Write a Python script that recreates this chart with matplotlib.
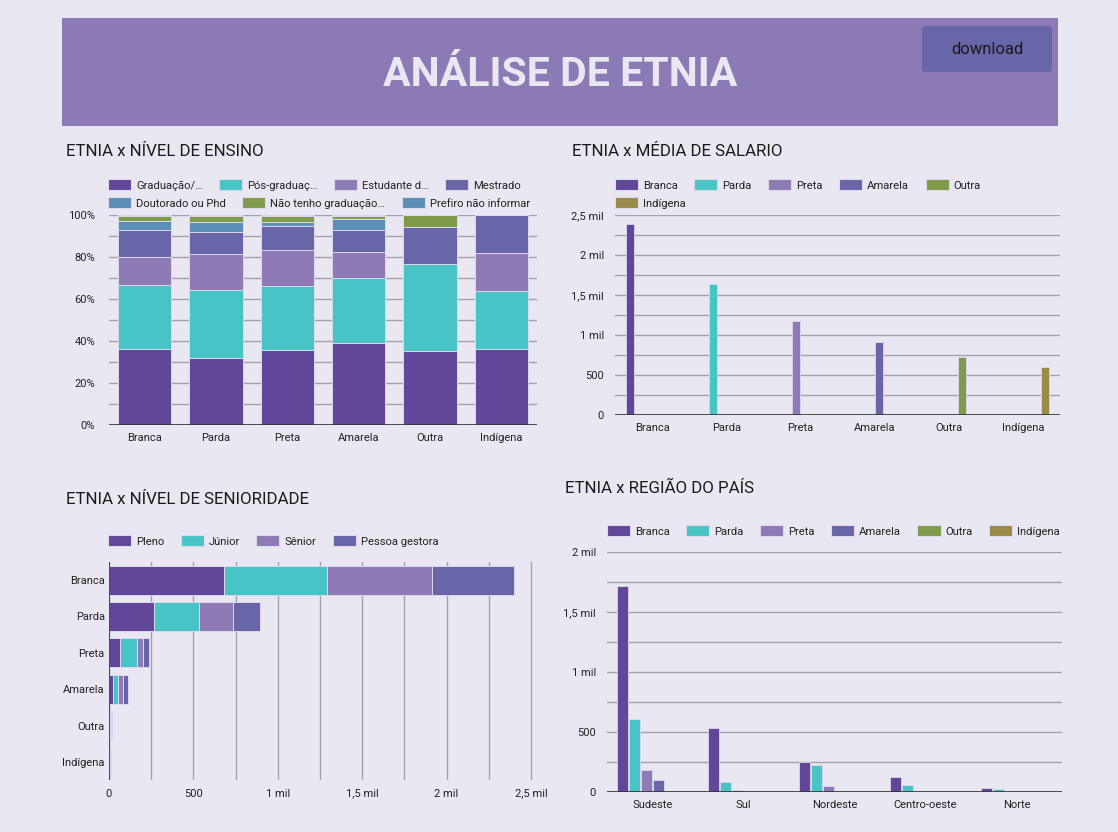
import matplotlib
matplotlib.use("Agg")
import matplotlib.pyplot as plt
from matplotlib.patches import Patch, FancyBboxPatch
from matplotlib.ticker import FuncFormatter, MultipleLocator
import numpy as np

plt.rcParams['font.family'] = ['Roboto', 'DejaVu Sans']

W, H = 1118, 832

etnias = ["Branca", "Parda", "Preta", "Amarela", "Outra", "Indígena"]

# ETNIA x NIVEL DE ENSINO (% por etnia)
ensino_labels = ["Graduação/…", "Pós-graduaç…", "Estudante d…", "Mestrado",
                 "Doutorado ou Phd", "Não tenho graduação…", "Prefiro não informar"]
graduacao = [36.2, 31.7, 35.7, 38.9, 35.3, 36.4]
pos_grad = [30.5, 32.6, 30.5, 31.1, 41.2, 27.3]
estudante = [13.3, 17.0, 17.3, 12.2, 0.0, 18.2]
mestrado = [12.9, 10.8, 11.1, 10.7, 17.6, 18.1]
doutorado = [4.4, 4.4, 2.2, 5.2, 0.0, 0.0]
sem_grad = [2.1, 2.9, 2.9, 1.6, 5.9, 0.0]
prefiro = [0.6, 0.6, 0.3, 0.3, 0.0, 0.0]

# ETNIA x MEDIA DE SALARIO
salario = [2392, 1640, 1169, 914, 722, 605]

# ETNIA x NIVEL DE SENIORIDADE
senior_labels = ["Pleno", "Júnior", "Sênior", "Pessoa gestora"]
pleno = [681, 267, 65, 24, 5, 4]
junior = [613, 266, 101, 29, 4, 3]
senior = [622, 200, 38, 30, 4, 2]
gestora = [481, 160, 33, 28, 3, 2]

# ETNIA x REGIAO DO PAIS
regioes = ["Sudeste", "Sul", "Nordeste", "Centro-oeste", "Norte"]
reg_branca = [1714, 534, 253, 128, 36]
reg_parda = [606, 86, 223, 58, 25]
reg_preta = [181, 17, 50, 8, 3]
reg_amarela = [97, 8, 8, 5, 1]
reg_outra = [8, 1, 2, 1, 0]
reg_indigena = [8, 1, 1, 1, 1]

# cores
roxo = "#604799"
turquesa = "#48c3c6"
lilas = "#8e7ab5"
azul_roxo = "#6865a8"
azul = "#5b8fb8"
verde = "#7f9a48"
azul2 = "#5b8db5"
ouro = "#9a8a48"
fundo = "#e9e7f1"
grade = "#a3a1ab"
borda = "#dcd8ea"

cores_etnia = [roxo, turquesa, lilas, azul_roxo, verde, ouro]
cores_ensino = [roxo, turquesa, lilas, azul_roxo, azul, verde, azul2]
cores_senior = [roxo, turquesa, lilas, azul_roxo]


def eixo(fig, x0, y0, x1, y1):
    ax = fig.add_axes([x0 / W, 1 - y1 / H, (x1 - x0) / W, (y1 - y0) / H])
    ax.set_facecolor("none")
    for s in ax.spines.values():
        s.set_visible(False)
    ax.tick_params(length=0, labelsize=8, colors="#222222")
    return ax


def legenda(fig, x, y, labels, cores):
    handles = [Patch(facecolor=c, edgecolor=borda, linewidth=0.8) for c in cores]
    fig.legend(handles, labels, loc="center left", bbox_to_anchor=(x / W, 1 - y / H),
               ncol=len(labels), frameon=False, fontsize=8.1, handlelength=2.05,
               handleheight=1.07, handletextpad=0.45, columnspacing=1.45,
               borderpad=0, borderaxespad=0, labelcolor="#222222")


def mil(v, pos):
    if v == 0:
        return "0"
    if v < 1000:
        return f"{v:.0f}"
    t = f"{v / 1000:g}".replace(".", ",")
    return f"{t} mil"


fig = plt.figure(figsize=(W / 100, H / 100), dpi=100)
fig.patch.set_facecolor(fundo)

# ----- cabeçalho -----
cab = eixo(fig, 62, 18, 1058, 126)
cab.set_xlim(0, 996)
cab.set_ylim(108, 0)
cab.set_xticks([])
cab.set_yticks([])
cab.set_facecolor("#8c7ab6")
cab.text(498, 57, "ANÁLISE DE ETNIA", ha="center", va="center", fontsize=29.5,
         fontweight="bold", color="#e9e7f2")
botao = FancyBboxPatch((860, 8), 130, 46, boxstyle="round,pad=0,rounding_size=4",
                       facecolor=azul_roxo, edgecolor="none")
cab.add_patch(botao)
cab.text(925, 31, "download", ha="center", va="center", fontsize=12, color="#1a1a1a")

# ----- ETNIA x NIVEL DE ENSINO -----
fig.text(66 / W, 1 - 152 / H, "ETNIA x NÍVEL DE ENSINO", fontsize=12.2, va="center", color="#1a1a1a")
legenda(fig, 108, 185, ensino_labels[:4], cores_ensino[:4])
legenda(fig, 108, 203, ensino_labels[4:], cores_ensino[4:])
ax1 = eixo(fig, 109, 215, 537, 425)
x = np.arange(len(etnias))
base = np.zeros(len(etnias))
for vals, cor in zip([graduacao, pos_grad, estudante, mestrado, doutorado, sem_grad, prefiro], cores_ensino):
    ax1.bar(x, vals, 0.745, bottom=base, color=cor, edgecolor=borda, linewidth=0.7, zorder=3)
    base += np.array(vals)
ax1.set_xlim(-0.5, 5.5)
ax1.set_ylim(0, 100)
ax1.yaxis.set_major_locator(MultipleLocator(20))
ax1.yaxis.set_minor_locator(MultipleLocator(10))
ax1.yaxis.set_major_formatter(FuncFormatter(lambda v, p: f"{v:.0f}%"))
ax1.tick_params(axis="y", which="both", length=0, pad=10)
ax1.grid(axis="y", which="both", color=grade, linewidth=1, zorder=0)
ax1.axhline(0, color="#333333", linewidth=1.2, zorder=4)
ax1.set_xticks(x, etnias)
ax1.tick_params(axis="x", pad=6)

# ----- ETNIA x MEDIA DE SALARIO -----
fig.text(572 / W, 1 - 152 / H, "ETNIA x MÉDIA DE SALARIO", fontsize=12.2, va="center", color="#1a1a1a")
legenda(fig, 615, 185, etnias[:5], cores_etnia[:5])
legenda(fig, 615, 203, etnias[5:], cores_etnia[5:])
ax2 = eixo(fig, 615, 215, 1060, 415)
slot = 0.12
for i, cor in enumerate(cores_etnia):
    ax2.bar(i + (i - 2.5) * slot, salario[i], 0.104, color=cor, edgecolor=borda,
            linewidth=0.6, zorder=3)
ax2.set_xlim(-0.5, 5.5)
ax2.set_ylim(0, 2500)
ax2.yaxis.set_major_locator(MultipleLocator(500))
ax2.yaxis.set_minor_locator(MultipleLocator(250))
ax2.yaxis.set_major_formatter(FuncFormatter(mil))
ax2.tick_params(axis="y", which="both", length=0, pad=8)
ax2.grid(axis="y", which="both", color=grade, linewidth=1, zorder=0)
ax2.axhline(0, color="#333333", linewidth=1.2, zorder=4)
ax2.set_xticks(x, etnias)
ax2.tick_params(axis="x", pad=6)

# ----- ETNIA x NIVEL DE SENIORIDADE -----
fig.text(66 / W, 1 - 499 / H, "ETNIA x NÍVEL DE SENIORIDADE", fontsize=12.2, va="center", color="#1a1a1a")
legenda(fig, 108, 541, senior_labels, cores_senior)
ax3 = eixo(fig, 109, 562, 536, 780)
esq = np.zeros(len(etnias))
for vals, cor in zip([pleno, junior, senior, gestora], cores_senior):
    ax3.barh(x, vals, 0.8, left=esq, color=cor, edgecolor=borda, linewidth=0.7, zorder=3)
    esq += np.array(vals)
ax3.set_ylim(5.5, -0.5)
ax3.set_xlim(0, 2530)
ax3.xaxis.set_major_locator(MultipleLocator(500))
ax3.xaxis.set_minor_locator(MultipleLocator(250))
ax3.xaxis.set_major_formatter(FuncFormatter(mil))
ax3.tick_params(axis="x", which="both", length=0, pad=12)
for t in ax3.get_xticklabels():
    t.set_verticalalignment("baseline")
ax3.grid(axis="x", which="both", color=grade, linewidth=1, zorder=0)
ax3.axvline(0, color="#333333", linewidth=1.2, zorder=4)
ax3.set_yticks(x, etnias)
ax3.tick_params(axis="y", pad=3)

# ----- ETNIA x REGIAO DO PAIS -----
fig.text(565 / W, 1 - 488 / H, "ETNIA x REGIÃO DO PAÍS", fontsize=12.2, va="center", color="#1a1a1a")
legenda(fig, 607, 531, etnias, cores_etnia)
ax4 = eixo(fig, 607, 552, 1062, 792)
xr = np.arange(len(regioes))
slot_r = 0.132
for i, (vals, cor) in enumerate(zip([reg_branca, reg_parda, reg_preta, reg_amarela,
                                     reg_outra, reg_indigena], cores_etnia)):
    ax4.bar(xr + (i - 2.5) * slot_r, vals, 0.125, color=cor, edgecolor=borda,
            linewidth=0.6, zorder=3)
ax4.set_xlim(-0.5, 4.5)
ax4.set_ylim(0, 2000)
ax4.yaxis.set_major_locator(MultipleLocator(500))
ax4.yaxis.set_minor_locator(MultipleLocator(250))
ax4.yaxis.set_major_formatter(FuncFormatter(mil))
ax4.tick_params(axis="y", which="both", length=0, pad=8)
ax4.grid(axis="y", which="both", color=grade, linewidth=1, zorder=0)
ax4.axhline(0, color="#333333", linewidth=1.2, zorder=4)
ax4.set_xticks(xr, regioes)
ax4.tick_params(axis="x", pad=6)

fig.savefig("out.png", dpi=100, facecolor=fundo)
